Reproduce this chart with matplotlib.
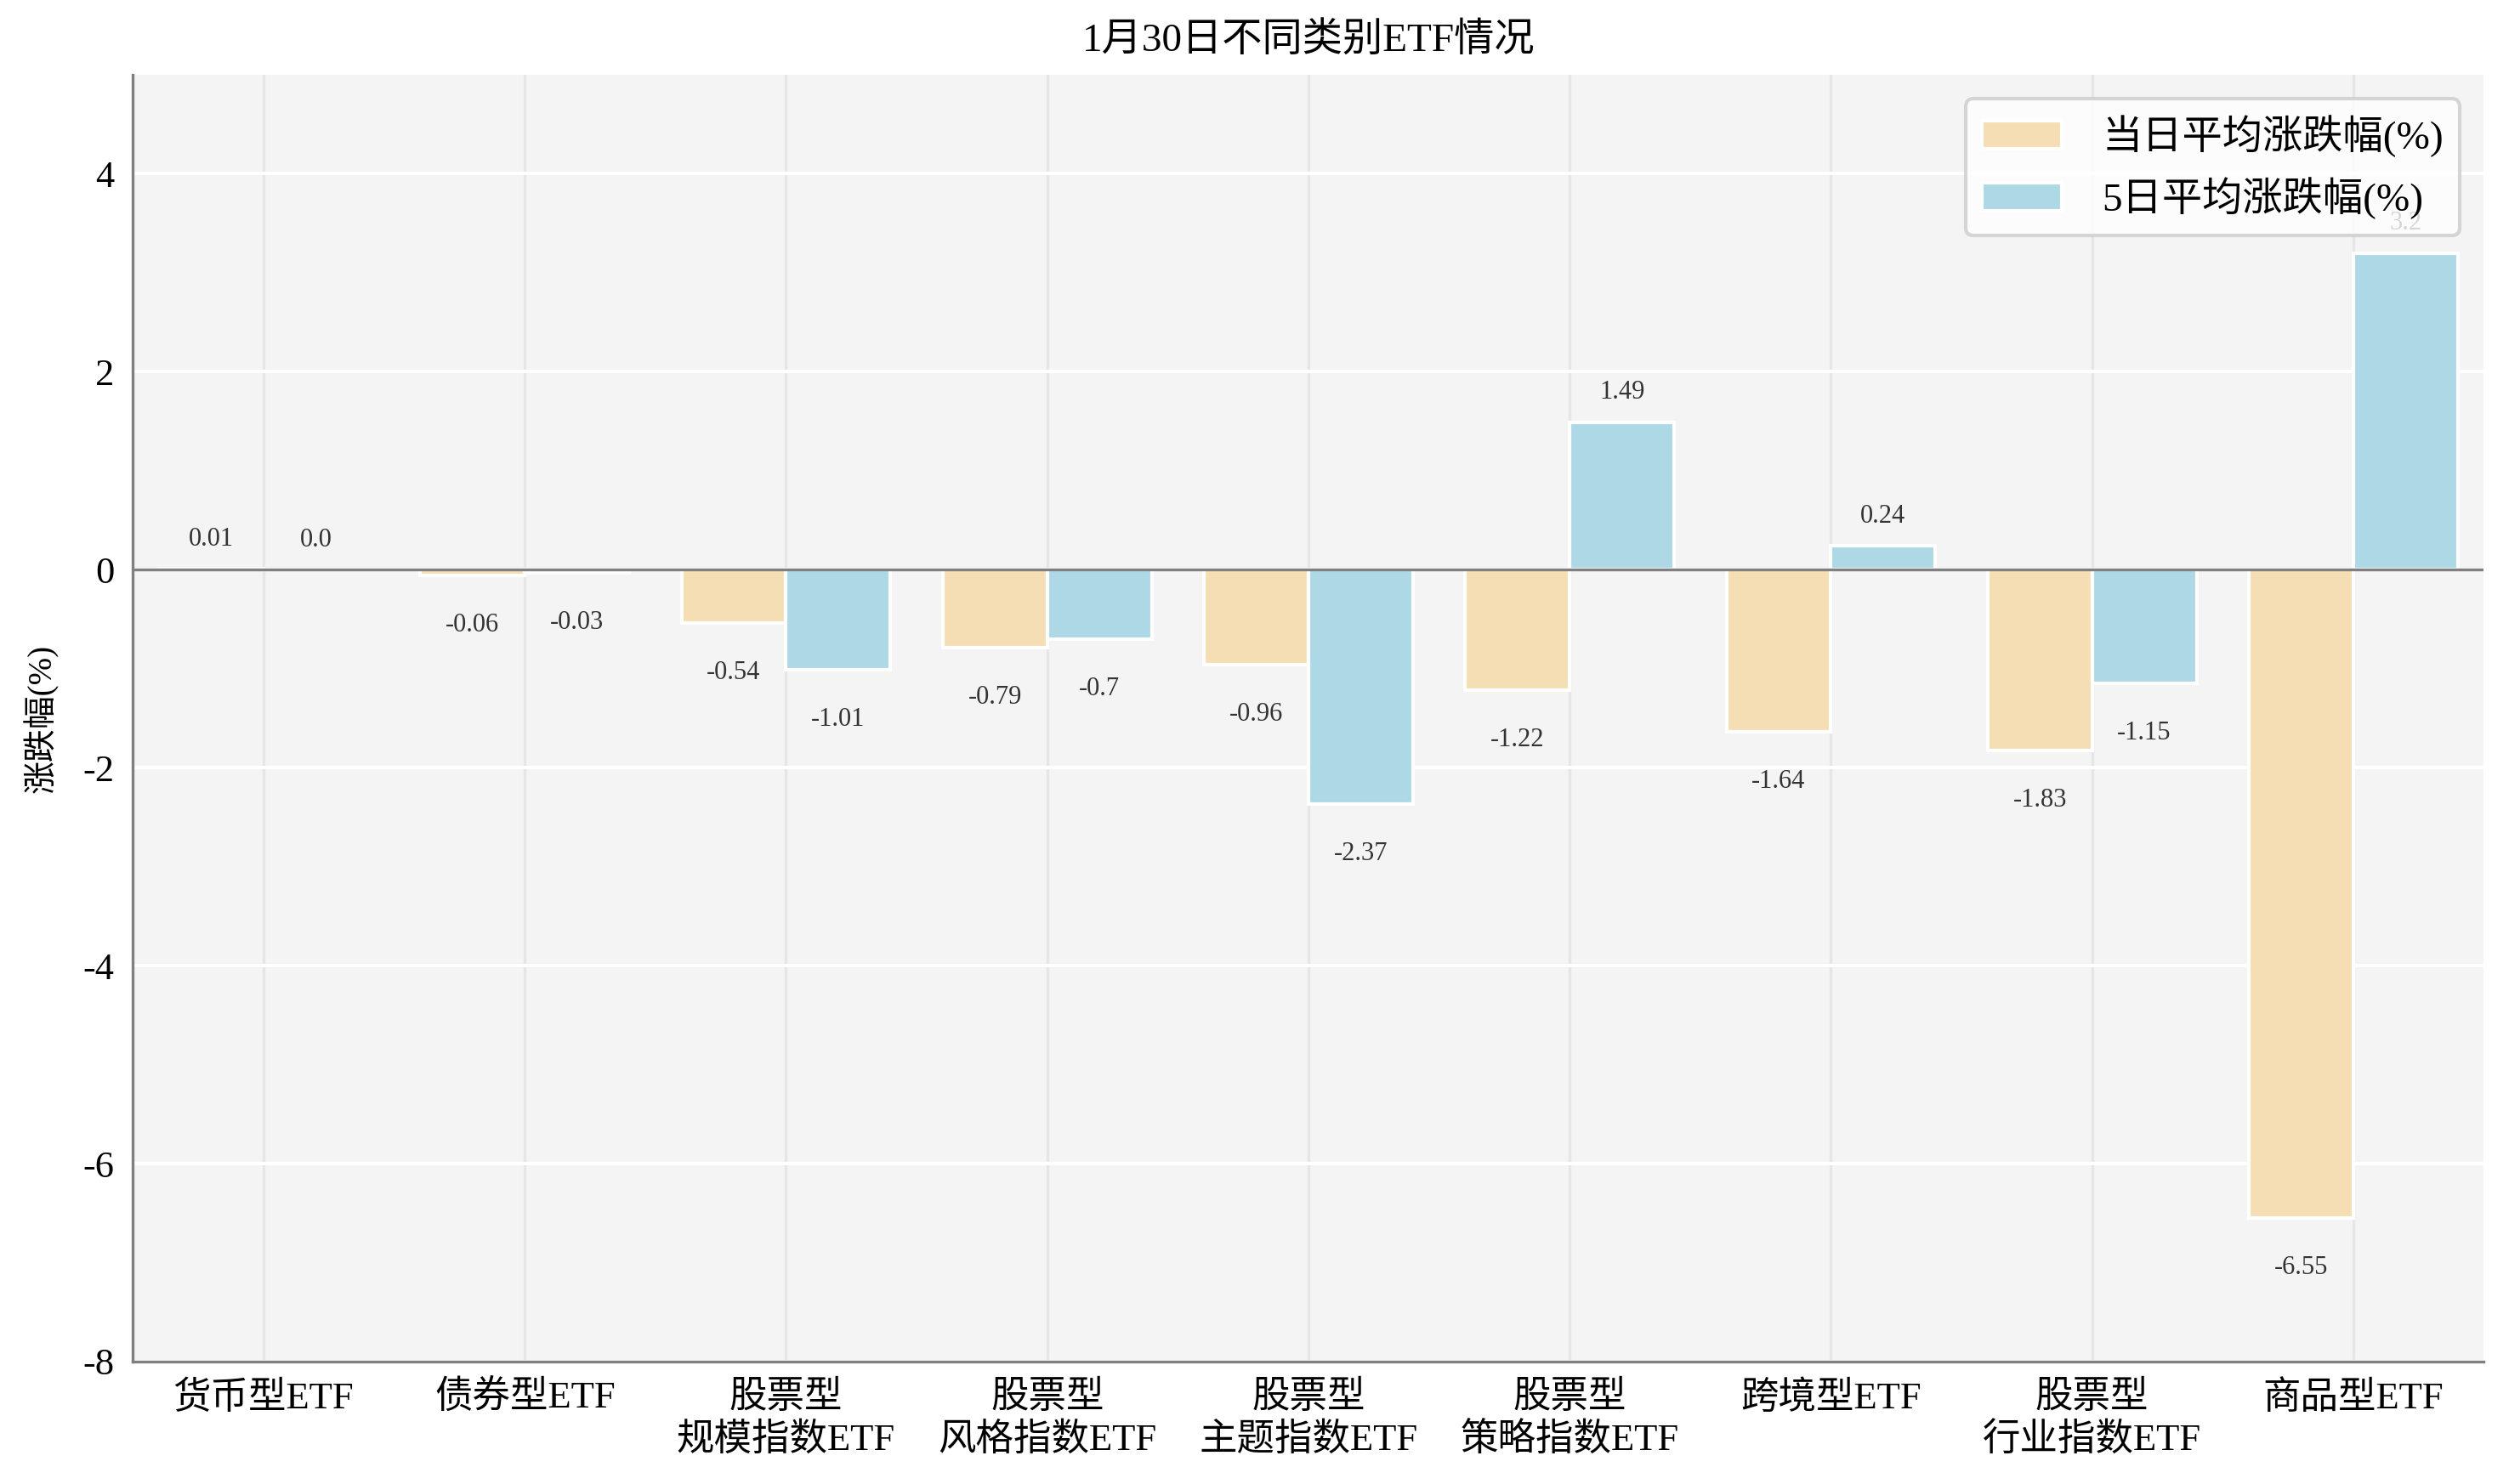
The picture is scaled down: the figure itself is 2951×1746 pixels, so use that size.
import matplotlib.pyplot as plt
import numpy as np

plt.rcParams['font.family'] = ['Liberation Serif', 'Noto Sans CJK SC', 'DejaVu Sans']
plt.rcParams['axes.unicode_minus'] = False

# data
categories = ['货币型ETF', '债券型ETF', '股票型\n规模指数ETF', '股票型\n风格指数ETF',
              '股票型\n主题指数ETF', '股票型\n策略指数ETF', '跨境型ETF',
              '股票型\n行业指数ETF', '商品型ETF']
day_change = [0.01, -0.06, -0.54, -0.79, -0.96, -1.22, -1.64, -1.83, -6.55]
week_change = [0.0, -0.03, -1.01, -0.7, -2.37, 1.49, 0.24, -1.15, 3.2]
yticks = [-8, -6, -4, -2, 0, 2, 4]

fig = plt.figure(figsize=(14.755, 8.73), dpi=200)
ax = fig.add_subplot(111)
fig.subplots_adjust(left=0.053, right=0.990, top=0.9496, bottom=0.0825)

x = np.arange(len(categories))
w = 0.4

ax.set_facecolor('#f4f4f4')
ax.set_axisbelow(True)
ax.grid(axis='y', color='white', linewidth=1.5)
ax.grid(axis='x', color='#e6e6e6', linewidth=1.2)

ax.bar(x - w / 2, day_change, w, color='#f5deb3', edgecolor='white',
       linewidth=1.5, label='当日平均涨跌幅(%)')
ax.bar(x + w / 2, week_change, w, color='#add8e6', edgecolor='white',
       linewidth=1.5, label='5日平均涨跌幅(%)')

ax.axhline(0, color='#808080', linewidth=1.2, zorder=3)

# value labels: above positive bars, below negative ones
for xs, vals in [(x - w / 2, day_change), (x + w / 2, week_change)]:
    for xi, v in zip(xs, vals):
        y = v + 0.3 if v >= 0 else v - 0.5
        ax.text(xi, y, str(v), ha='center', va='center', fontsize=11,
                color='#333333')

ax.set_xlim(-0.5, len(categories) - 0.5)
ax.set_ylim(-8, 5)
ax.set_yticks(yticks)
ax.set_yticklabels([str(t) for t in yticks])
ax.set_xticks(x)
ax.set_xticklabels(categories, fontsize=16, linespacing=1.25)
ax.tick_params(axis='y', labelsize=16, length=0, pad=8)
ax.tick_params(axis='x', length=0, pad=8)

for s in ['top', 'right']:
    ax.spines[s].set_visible(False)
for s in ['left', 'bottom']:
    ax.spines[s].set_color('#808080')
    ax.spines[s].set_linewidth(1.2)

ax.set_ylabel('涨跌幅(%)', fontsize=14, labelpad=10)
ax.set_title('1月30日不同类别ETF情况', fontsize=17, pad=10)

leg = ax.legend(loc='upper right', fontsize=17, frameon=True, fancybox=True,
                framealpha=0.8, edgecolor='#cccccc', handletextpad=1.0,
                borderaxespad=0.6)
leg.get_frame().set_linewidth(1.5)
leg.set_zorder(10)

fig.savefig('out.png', dpi=200)
